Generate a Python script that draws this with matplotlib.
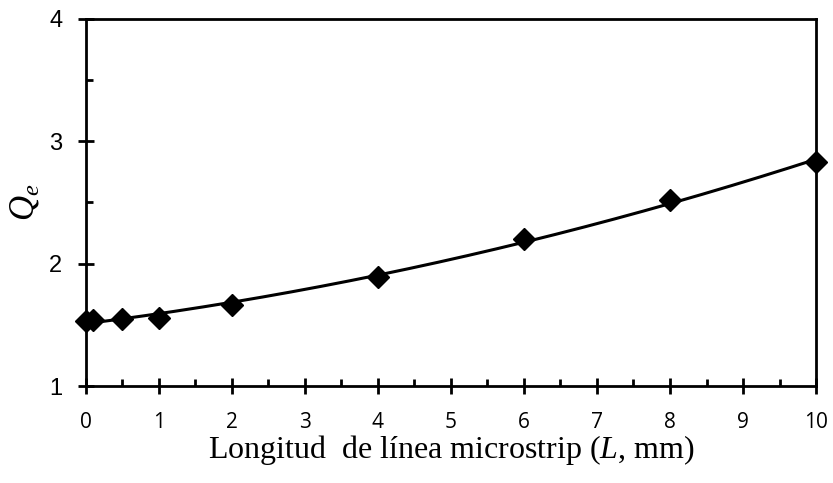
import numpy as np
import matplotlib
matplotlib.use("Agg")
import matplotlib.pyplot as plt
from matplotlib.ticker import MultipleLocator

# data
L_mm = [0, 0.1, 0.5, 1, 2, 4, 6, 8, 10]
Qe = [1.53, 1.54, 1.55, 1.56, 1.66, 1.89, 2.20, 2.52, 2.83]

plt.rcParams['mathtext.fontset'] = 'custom'
plt.rcParams['mathtext.it'] = 'Liberation Serif:italic'
plt.rcParams['mathtext.rm'] = 'Liberation Serif'

fig = plt.figure(figsize=(8.33, 4.83), dpi=100)
ax = fig.add_axes([0.1032, 0.2008, 0.8764, 0.7599])

# polynomial trend line through the points
coef = np.polyfit(L_mm, Qe, 2)
xs = np.linspace(0, 10, 200)
ax.plot(xs, np.polyval(coef, xs), color='black', lw=2.2, zorder=2)
ax.plot(L_mm, Qe, linestyle='none', marker='D', markersize=11,
        color='black', zorder=3, clip_on=False)

ax.set_xlim(0, 10)
ax.set_ylim(1, 4)
ax.xaxis.set_major_locator(MultipleLocator(1))
ax.xaxis.set_minor_locator(MultipleLocator(0.5))
ax.yaxis.set_major_locator(MultipleLocator(1))
ax.yaxis.set_minor_locator(MultipleLocator(0.5))

for s in ax.spines.values():
    s.set_linewidth(2)
ax.tick_params(which='major', direction='inout', length=12, width=2)
ax.tick_params(which='minor', direction='in', length=5, width=2)
ax.tick_params(axis='x', which='major', labelsize=15, pad=13)
ax.tick_params(axis='y', which='major', labelsize=17, pad=11)
for lab in ax.get_xticklabels():
    lab.set_family('Open Sans')
for lab in ax.get_yticklabels():
    lab.set_family('Liberation Sans')

ax.set_xlabel('Longitud  de línea microstrip ($L$, mm)',
              fontfamily='Liberation Serif', fontsize=23, labelpad=0)
ax.set_ylabel('$Q_e$', fontsize=25, labelpad=6)

plt.savefig('out.png', dpi=100)
